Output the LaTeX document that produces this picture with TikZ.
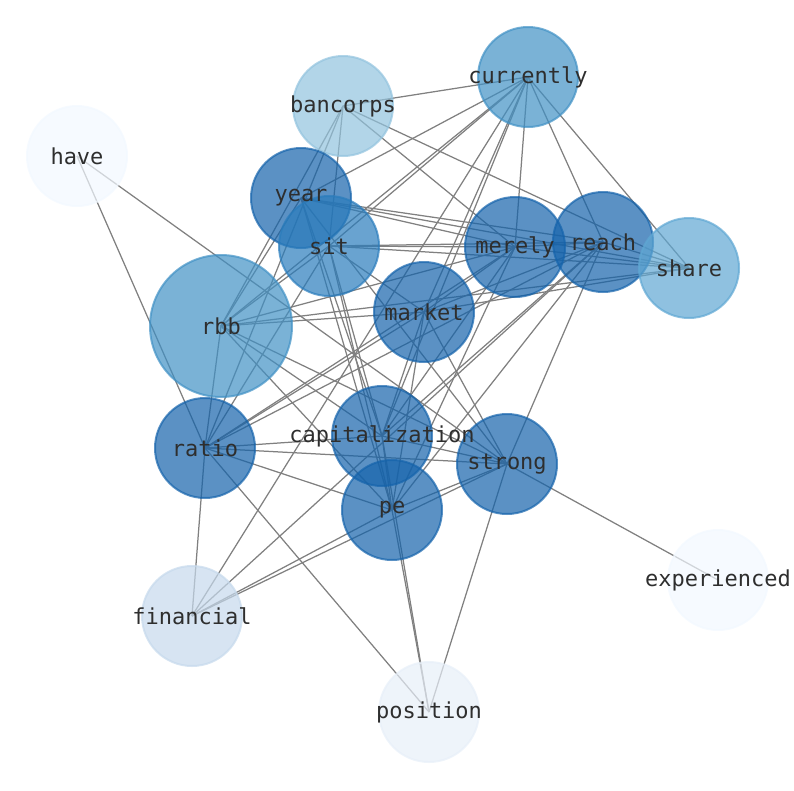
\documentclass[tikz,border=0pt]{standalone}
\usepackage{fontspec}
\setmonofont{DejaVu Sans Mono}
\usetikzlibrary{backgrounds}
\definecolor{blueH}{RGB}{21,99,171}
\definecolor{blueG}{RGB}{42,124,188}
\definecolor{blueF}{RGB}{65,145,197}
\definecolor{blueE}{RGB}{95,167,211}
\definecolor{blueD}{RGB}{146,195,222}
\definecolor{blueC}{RGB}{198,217,236}
\definecolor{blueB}{RGB}{231,239,248}
\definecolor{blueA}{RGB}{242,248,255}
\tikzset{
        word/.style = { circle, minimum size=100pt, inner sep=0pt, opacity=0.7, line width=2pt },
         big/.style = { word, minimum size=142pt },
     wordtxt/.style = { font=\ttfamily\fontsize{22}{22}\selectfont, text=black!82, opacity=1, inner sep=0pt },
        link/.style = { black!50, line width=1.25pt }
}

\begin{document}
\begin{tikzpicture}[x=1pt, y=-1pt]
  \useasboundingbox (0,0) rectangle (794,790);

  % words
  \node[word, fill=blueA, draw=blueA] (have) at (77,156) {};
  \node[word, fill=blueD, draw=blueD] (bancorps) at (343,106) {};
  \node[word, fill=blueF, draw=blueF] (currently) at (528,77) {};
  \node[word, fill=blueH, draw=blueH] (year) at (301,198) {};
  \node[word, fill=blueG, draw=blueG] (sit) at (329,246) {};
  \node[word, fill=blueH, draw=blueH] (merely) at (515,247) {};
  \node[word, fill=blueH, draw=blueH] (reach) at (603,242) {};
  \node[word, fill=blueE, draw=blueE] (share) at (689,268) {};
  \node[word, fill=blueH, draw=blueH] (market) at (424,312) {};
  \node[big,  fill=blueF, draw=blueF] (rbb) at (221,326) {};
  \node[word, fill=blueH, draw=blueH] (ratio) at (205,448) {};
  \node[word, fill=blueH, draw=blueH] (capitalization) at (382,436) {};
  \node[word, fill=blueH, draw=blueH] (strong) at (507,464) {};
  \node[word, fill=blueH, draw=blueH] (pe) at (392,510) {};
  \node[word, fill=blueC, draw=blueC] (financial) at (192,616) {};
  \node[word, fill=blueA, draw=blueA] (experienced) at (718,580) {};
  \node[word, fill=blueB, draw=blueB] (position) at (429,712) {};

  % labels
  \foreach \w in {have,bancorps,currently,year,sit,merely,reach,share,market,
                  rbb,ratio,capitalization,strong,pe,financial,experienced,position}
    \node[wordtxt] (\w-txt) at (\w.center) {\w};

  % links
  \begin{scope}[on background layer]
    \foreach \a/\b in {have/ratio, have/strong,
        bancorps/currently, bancorps/rbb, bancorps/ratio, bancorps/sit,
        bancorps/share, bancorps/merely,
        currently/year, currently/sit, currently/rbb, currently/market,
        currently/capitalization, currently/merely, currently/reach, currently/share,
        currently/financial,
        year/merely, year/reach, year/share, year/pe, year/capitalization, year/strong,
        year/rbb,
        sit/merely, sit/reach, sit/share, sit/pe, sit/capitalization, sit/rbb, sit/ratio,
        sit/market,
        merely/reach, merely/share, merely/market, merely/rbb, merely/ratio, merely/pe,
        merely/capitalization,
        reach/share, reach/market, reach/ratio, reach/capitalization, reach/pe,
        reach/strong, reach/financial,
        market/share, market/rbb, market/ratio, market/capitalization, market/pe,
        market/strong,
        rbb/share, rbb/ratio, rbb/capitalization, rbb/strong, rbb/pe,
        ratio/capitalization, ratio/strong, ratio/pe, ratio/financial, ratio/position,
        capitalization/strong, capitalization/pe, capitalization/position,
        strong/pe, strong/experienced, strong/position, strong/financial,
        pe/financial, pe/position}
      \draw[link] (\a.center) -- (\b.center);
  \end{scope}
\end{tikzpicture}
\end{document}
